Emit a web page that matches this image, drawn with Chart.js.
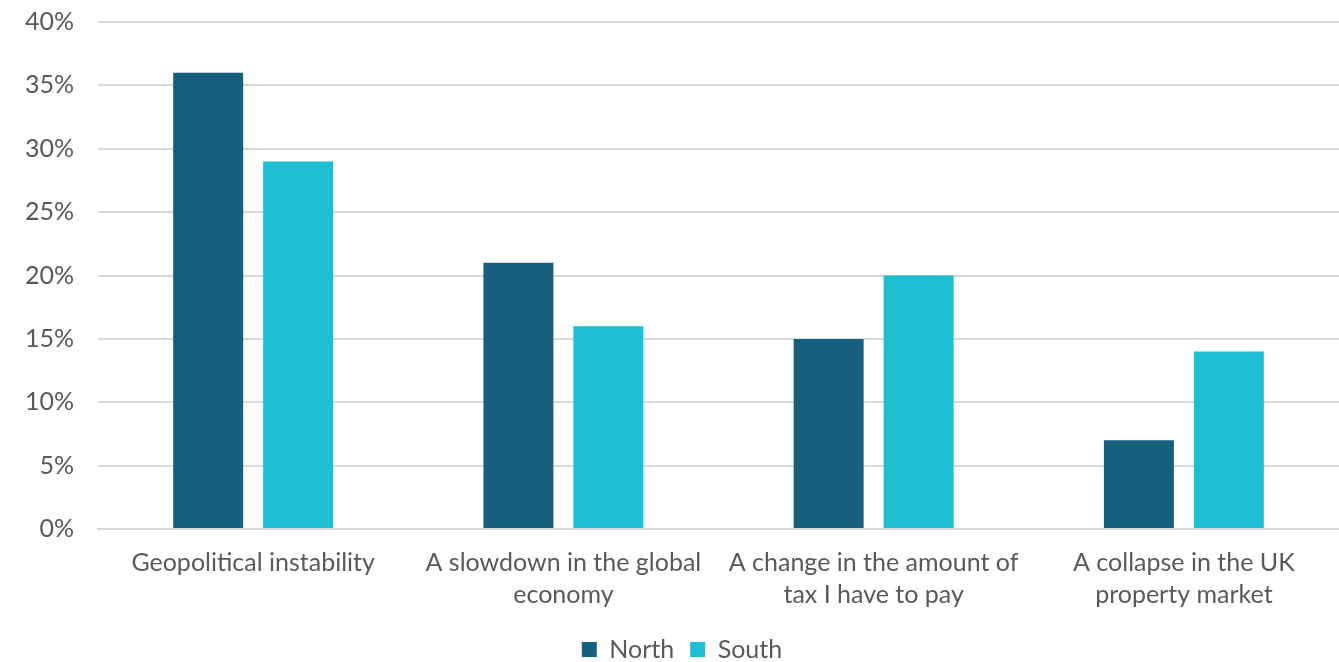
<!DOCTYPE html>
<html>
<head>
<meta charset="utf-8">
<script src="https://cdn.jsdelivr.net/npm/chart.js@4/dist/chart.umd.min.js"></script>
<style>
  html, body { margin: 0; padding: 0; background: #fff; }
  #wrap { width: 1339px; height: 662px; position: relative; }
</style>
</head>
<body>
<div id="wrap"><canvas id="chart"></canvas></div>
<script>
// Survey categories (wrapped onto two lines where needed)
const categories = [
  "Geopolitical instability",
  ["A slowdown in the global", "economy"],
  ["A change in the amount of", "tax I have to pay"],
  ["A collapse in the UK", "property market"]
];

// Share of respondents, percent
const northValues = [36, 21, 15, 7];
const southValues = [29, 16, 20, 14];

const yTicks = [0, 5, 10, 15, 20, 25, 30, 35, 40];

const textGrey = "#595959";
const fontFamily = "Lato, 'Open Sans', sans-serif";

const ctx = document.getElementById("chart").getContext("2d");
new Chart(ctx, {
  type: "bar",
  data: {
    labels: categories,
    datasets: [
      {
        label: "North",
        data: northValues,
        backgroundColor: "#17607d",
        categoryPercentage: 0.58,
        barPercentage: 0.778
      },
      {
        label: "South",
        data: southValues,
        backgroundColor: "#1ebfd2",
        categoryPercentage: 0.58,
        barPercentage: 0.778
      }
    ]
  },
  options: {
    responsive: true,
    maintainAspectRatio: false,
    animation: false,
    layout: { padding: { top: 22, right: 0, left: 25, bottom: -10 } },
    plugins: {
      legend: {
        position: "bottom",
        labels: {
          boxWidth: 15,
          boxHeight: 15,
          padding: 16,
          color: textGrey,
          font: { family: fontFamily, size: 25 }
        }
      },
      tooltip: { enabled: false }
    },
    scales: {
      x: {
        grid: { display: false },
        border: { color: "#d9d9d9", width: 2 },
        ticks: {
          color: textGrey,
          maxRotation: 0,
          padding: 10,
          font: { family: fontFamily, size: 25, lineHeight: 1.28 }
        }
      },
      y: {
        min: 0,
        max: 40,
        afterBuildTicks: axis => { axis.ticks = yTicks.map(v => ({ value: v })); },
        // invisible tick marks keep the gap between labels and gridlines
        grid: { color: "#d9d9d9", lineWidth: 2, drawTicks: true, tickLength: 24, tickColor: "rgba(0,0,0,0)" },
        border: { display: false },
        ticks: {
          color: textGrey,
          padding: 0,
          font: { family: fontFamily, size: 25 },
          callback: v => v + "%"
        }
      }
    }
  }
});
</script>
</body>
</html>
